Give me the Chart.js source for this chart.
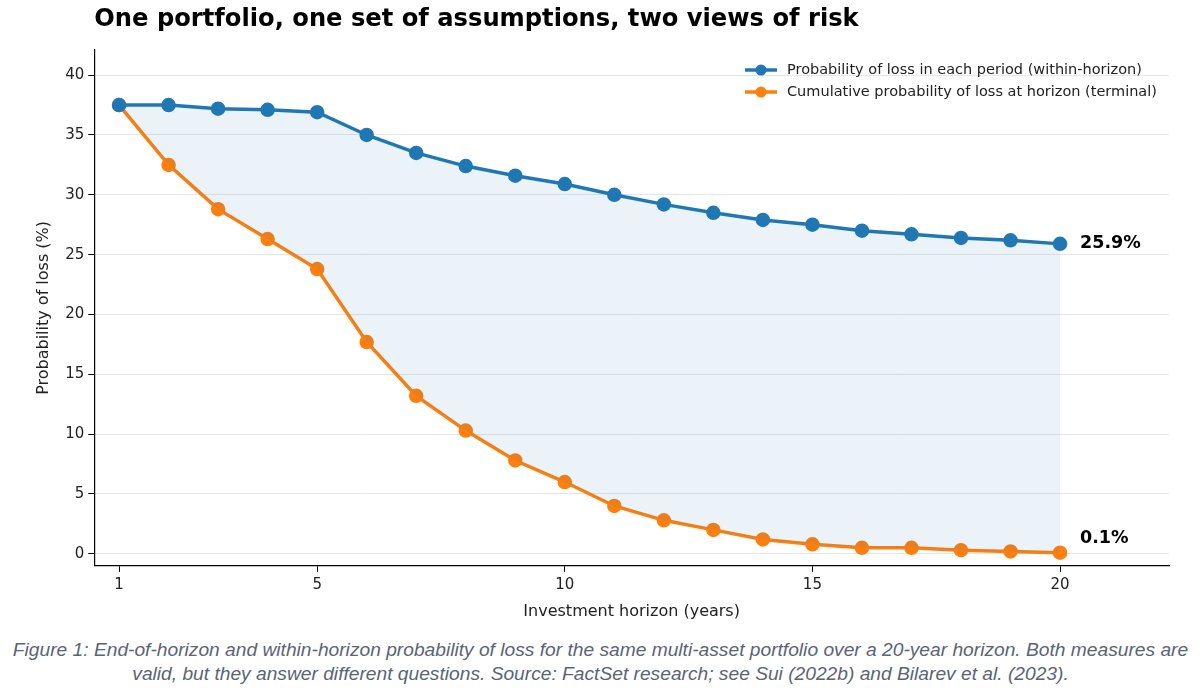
<!DOCTYPE html>
<html>
<head>
<meta charset="utf-8">
<script src="https://cdn.jsdelivr.net/npm/chart.js@4.4.1/dist/chart.umd.min.js"></script>
<style>
  body { margin: 0; background: #fff; }
  #wrap { position: relative; width: 1201px; height: 629px; }
  #caption {
    width: 1201px;
    margin-top: 9px;
    text-align: center;
    font-family: "Liberation Sans", Arial, sans-serif;
    font-style: italic;
    font-size: 19.2px;
    line-height: 24px;
    color: #5a6474;
    white-space: nowrap;
  }
</style>
</head>
<body>
<div id="wrap"><canvas id="chart"></canvas></div>
<div id="caption">Figure 1: End-of-horizon and within-horizon probability of loss for the same multi-asset portfolio over a 20-year horizon. Both measures are<br>valid, but they answer different questions. Source: FactSet research; see Sui (2022b) and Bilarev et al. (2023).</div>
<script>
const years = [1, 2, 3, 4, 5, 6, 7, 8, 9, 10, 11, 12, 13, 14, 15, 16, 17, 18, 19, 20];
const withinHorizon = [37.5, 37.5, 37.2, 37.1, 36.9, 35.0, 33.5, 32.4, 31.6, 30.9, 30.0, 29.2, 28.5, 27.9, 27.5, 27.0, 26.7, 26.4, 26.2, 25.9];
const terminal = [37.5, 32.5, 28.8, 26.3, 23.8, 17.7, 13.2, 10.3, 7.8, 6.0, 4.0, 2.8, 2.0, 1.2, 0.8, 0.5, 0.5, 0.3, 0.2, 0.1];
const xTicks = [1, 5, 10, 15, 20];
const yTicks = [0, 5, 10, 15, 20, 25, 30, 35, 40];

const BLUE = '#1f77b4';
const ORANGE = '#ff7f0e';
const FONT = '"DejaVu Sans", sans-serif';

const toPoints = (values) => years.map((year, i) => ({ x: year, y: values[i] }));

// title, legend and end labels drawn on top of the chart
const decorations = {
  id: 'decorations',
  afterDraw(chart) {
    const { ctx, chartArea, scales } = chart;
    ctx.save();

    ctx.fillStyle = '#000';
    ctx.font = `bold 24.2px ${FONT}`;
    ctx.textBaseline = 'middle';
    ctx.textAlign = 'left';
    ctx.fillText('One portfolio, one set of assumptions, two views of risk', chartArea.left, 20);

    const legendX = chartArea.right - 424;
    chart.data.datasets.forEach((ds, i) => {
      const y = chartArea.top + 20 + i * 22;
      ctx.strokeStyle = ds.borderColor;
      ctx.lineWidth = 3.5;
      ctx.beginPath();
      ctx.moveTo(legendX, y);
      ctx.lineTo(legendX + 32, y);
      ctx.stroke();
      ctx.fillStyle = ds.borderColor;
      ctx.beginPath();
      ctx.arc(legendX + 16, y, 5.5, 0, Math.PI * 2);
      ctx.fill();
      ctx.fillStyle = '#222';
      ctx.font = `14.5px ${FONT}`;
      ctx.fillText(ds.label, legendX + 42, y);
    });

    const last = years.length - 1;
    ctx.fillStyle = '#000';
    ctx.font = `bold 17.5px ${FONT}`;
    const xEnd = scales.x.getPixelForValue(years[last]) + 20;
    ctx.fillText(`${withinHorizon[last]}%`, xEnd, scales.y.getPixelForValue(withinHorizon[last]));
    ctx.fillText(`${terminal[last]}%`, xEnd, scales.y.getPixelForValue(terminal[last]) - 14);

    ctx.restore();
  },
};

new Chart(document.getElementById('chart'), {
  type: 'line',
  data: {
    datasets: [
      {
        label: 'Probability of loss in each period (within-horizon)',
        data: toPoints(withinHorizon),
        borderColor: BLUE,
        backgroundColor: 'rgba(31, 119, 180, 0.09)',
        pointBackgroundColor: BLUE,
        pointBorderColor: BLUE,
        borderWidth: 3.5,
        pointRadius: 5.5,
        fill: '+1',
        order: 1,
      },
      {
        label: 'Cumulative probability of loss at horizon (terminal)',
        data: toPoints(terminal),
        borderColor: ORANGE,
        backgroundColor: ORANGE,
        pointBackgroundColor: ORANGE,
        pointBorderColor: ORANGE,
        borderWidth: 3.5,
        pointRadius: 5.5,
        fill: false,
        order: 2,
      },
    ],
  },
  options: {
    responsive: true,
    maintainAspectRatio: false,
    animation: false,
    layout: { padding: { top: 50, left: 30, right: 32, bottom: 4 } },
    plugins: {
      legend: { display: false },
      tooltip: { enabled: false },
    },
    scales: {
      x: {
        type: 'linear',
        min: 0.5,
        max: 22.2,
        afterBuildTicks: (axis) => { axis.ticks = xTicks.map((v) => ({ value: v })); },
        grid: { drawOnChartArea: false, drawTicks: true, tickLength: 6, color: '#000' },
        border: { display: true, color: '#000', width: 1.2 },
        ticks: { color: '#222', font: { family: FONT, size: 15 }, padding: 4, maxRotation: 0 },
        title: { display: true, text: 'Investment horizon (years)', color: '#222', font: { family: FONT, size: 16 }, padding: { top: 4 } },
      },
      y: {
        min: -1,
        max: 42.1,
        afterBuildTicks: (axis) => { axis.ticks = yTicks.map((v) => ({ value: v })); },
        grid: { color: '#e6e6e6', tickColor: '#000', tickLength: 6, lineWidth: 1 },
        border: { display: true, color: '#000', width: 1.2 },
        ticks: { color: '#222', font: { family: FONT, size: 15 }, padding: 4 },
        title: { display: true, text: 'Probability of loss (%)', color: '#222', font: { family: FONT, size: 16 }, padding: { bottom: 8 } },
      },
    },
  },
  plugins: [decorations],
});
</script>
</body>
</html>
